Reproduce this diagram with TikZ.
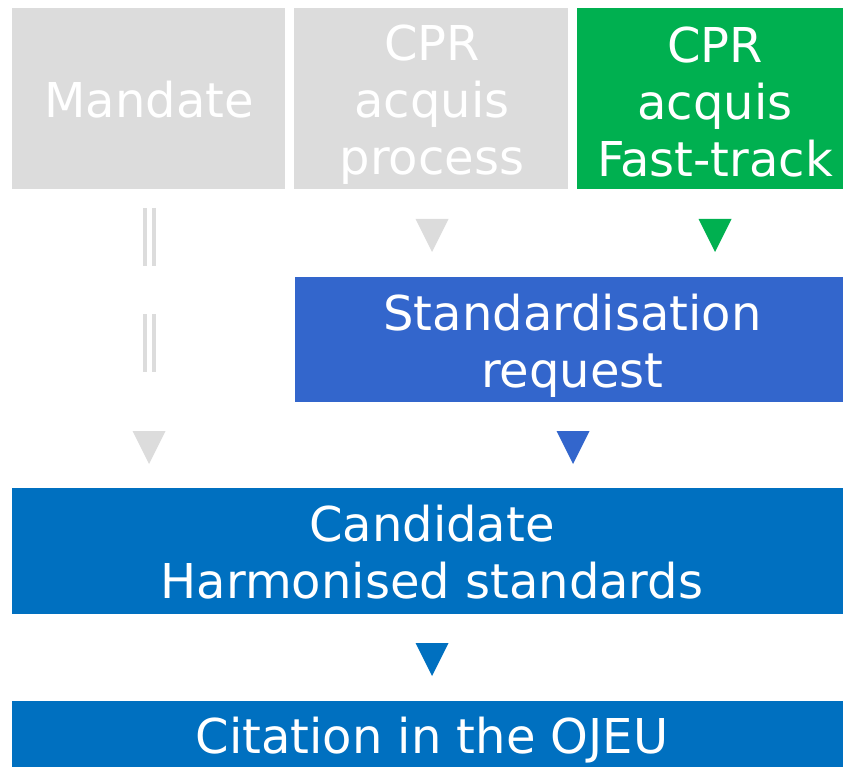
\documentclass[tikz,border=0pt]{standalone}
\usepackage{fontspec}
\setmainfont{DejaVu Sans}
\usetikzlibrary{calc}
\definecolor{lgray}{HTML}{DCDCDC}
\definecolor{fgreen}{HTML}{00B050}
\definecolor{sblue}{HTML}{3366CC}
\definecolor{dblue}{HTML}{0070C0}
\newcommand\downtri[2]{\fill[#1] ($(#2)+(-16.5,0)$) -- ($(#2)+(16.5,0)$) -- ($(#2)+(0,33)$) -- cycle;}
\begin{document}
\begin{tikzpicture}[x=1pt,y=-1pt,
  box/.style={rectangle, inner sep=0pt},
  lbl/.style={inner sep=0pt, text=white, align=center,
    font=\fontsize{48}{57}\selectfont},
  dline/.style={draw=lgray, line width=4pt, double=white, double distance=5.5pt}]
\useasboundingbox (0,0) rectangle (843,767);
% top row
\node[box, fill=lgray, minimum width=273pt, minimum height=181pt] (mand) at (148.5,98.5) {};
\node[box, fill=lgray, minimum width=274pt, minimum height=181pt] (proc) at (431,98.5) {};
\node[box, fill=fgreen, minimum width=266pt, minimum height=181pt] (fast) at (710,98.5) {};
\node[lbl] (mandt) at (149,100) {Mandate};
\node[lbl] (proct) at (432,104.5) {CPR\\acquis\\process};
\node[lbl] (fastt) at (715,102.5) {CPR\\acquis\\Fast-track};
% standardisation request
\node[box, fill=sblue, minimum width=548pt, minimum height=125pt] (sreq) at (569,339.5) {};
\node[lbl] (sreqt) at (572.5,345.5) {Standardisation\\request};
% candidate
\node[box, fill=dblue, minimum width=831pt, minimum height=126pt] (cand) at (427.5,551) {};
\node[lbl] (candt) at (432,552) {Candidate\\Harmonised standards};
% citation
\node[box, fill=dblue, minimum width=831pt, minimum height=66pt] (cite) at (427.5,734) {};
\node[lbl] (citet) at (432,740) {Citation in the OJEU};
% arrow heads
\coordinate (ta) at (432,219);
\coordinate (tb) at (715,219);
\coordinate (tc) at (149,431);
\coordinate (td) at (573,431);
\coordinate (te) at (432,643);
\downtri{lgray}{ta}
\downtri{fgreen}{tb}
\downtri{lgray}{tc}
\downtri{sblue}{td}
\downtri{dblue}{te}
% double lines on the Mandate path
\coordinate (da) at (149.25,208);
\coordinate (db) at (149.25,266);
\coordinate (dc) at (149.25,314);
\coordinate (dd) at (149.25,372);
\draw[dline] (da) -- (db);
\draw[dline] (dc) -- (dd);
\end{tikzpicture}
\end{document}
